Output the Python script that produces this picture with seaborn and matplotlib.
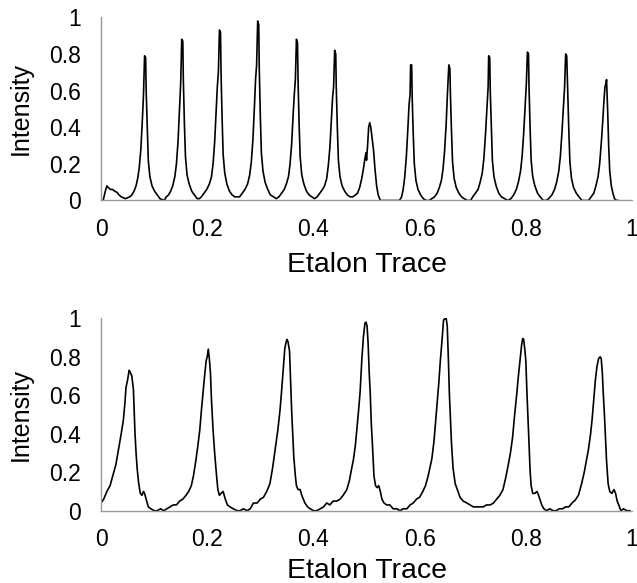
import matplotlib
matplotlib.use("Agg")
import matplotlib.pyplot as plt
import seaborn as sns

# Etalon trace, upper panel (peak by peak)
top_x = [
    0.004, 0.008, 0.011, 0.014, 0.018, 0.022, 0.026, 0.030, 0.034, 0.038, 0.042, 0.046, 0.050,
    0.054, 0.058, 0.062, 0.066, 0.069, 0.072, 0.075, 0.078, 0.080, 0.082, 0.084, 0.085, 0.087, 0.089, 0.092, 0.096, 0.101, 0.106, 0.111, 0.115,
    0.119, 0.123,
    0.127, 0.131, 0.135, 0.139, 0.142, 0.145, 0.148, 0.150, 0.152, 0.154, 0.155, 0.157, 0.159, 0.162, 0.166, 0.171, 0.176, 0.181, 0.185,
    0.189, 0.194, 0.199, 0.204, 0.208, 0.211, 0.214, 0.217, 0.219, 0.221, 0.223, 0.225, 0.226, 0.228, 0.230, 0.233, 0.237, 0.242, 0.247, 0.252, 0.256,
    0.261, 0.266, 0.271, 0.276, 0.280, 0.283, 0.286, 0.289, 0.291, 0.293, 0.295, 0.297, 0.298, 0.300, 0.302, 0.305, 0.309, 0.314, 0.319, 0.325, 0.330,
    0.335, 0.340, 0.345, 0.349, 0.353, 0.356, 0.359, 0.362, 0.364, 0.366, 0.368, 0.370, 0.371, 0.373, 0.375, 0.378, 0.382, 0.387, 0.392, 0.397, 0.402,
    0.407, 0.412, 0.417, 0.421, 0.425, 0.428, 0.431, 0.434, 0.436, 0.438, 0.440, 0.442, 0.443, 0.445, 0.447, 0.450, 0.454, 0.459, 0.464, 0.469, 0.474, 0.479,
    0.483, 0.487, 0.491, 0.494, 0.497, 0.499, 0.500, 0.502, 0.504, 0.506, 0.508, 0.510, 0.513, 0.516, 0.519, 0.522, 0.526, 0.535, 0.545, 0.555, 0.562,
    0.566, 0.569, 0.572, 0.575, 0.578, 0.580, 0.582, 0.583, 0.585, 0.586, 0.588, 0.590, 0.593, 0.597, 0.602, 0.607, 0.612, 0.618, 0.623,
    0.628, 0.633, 0.637, 0.641, 0.644, 0.647, 0.650, 0.652, 0.654, 0.655, 0.657, 0.658, 0.660, 0.662, 0.665, 0.669, 0.674, 0.679, 0.684, 0.690, 0.696,
    0.700, 0.705, 0.710, 0.714, 0.718, 0.721, 0.724, 0.727, 0.729, 0.730, 0.732, 0.733, 0.735, 0.737, 0.740, 0.744, 0.749, 0.754, 0.760, 0.766,
    0.772, 0.777, 0.782, 0.786, 0.790, 0.793, 0.796, 0.799, 0.801, 0.803, 0.805, 0.806, 0.808, 0.810, 0.813, 0.817, 0.822, 0.827, 0.833, 0.838,
    0.843, 0.849, 0.854, 0.858, 0.862, 0.865, 0.868, 0.871, 0.873, 0.875, 0.877, 0.879, 0.881, 0.883, 0.886, 0.890, 0.895, 0.900, 0.906, 0.912,
    0.918, 0.923, 0.928, 0.932, 0.936, 0.939, 0.942, 0.945, 0.947, 0.949, 0.951, 0.952, 0.954, 0.956, 0.958, 0.961, 0.964, 0.967, 0.971, 0.975,
]
top_y = [
    0.00, 0.05, 0.08, 0.07, 0.06, 0.06, 0.05, 0.045, 0.03, 0.02, 0.015, 0.01, 0.015,
    0.02, 0.03, 0.05, 0.08, 0.12, 0.18, 0.28, 0.45, 0.58, 0.79, 0.78, 0.60, 0.40, 0.22, 0.13, 0.08, 0.05, 0.03, 0.01, 0.005,
    0.00, 0.02,
    0.03, 0.05, 0.08, 0.13, 0.20, 0.32, 0.52, 0.64, 0.88, 0.87, 0.66, 0.42, 0.24, 0.14, 0.09, 0.05, 0.03, 0.01, 0.01,
    0.02, 0.04, 0.06, 0.09, 0.13, 0.20, 0.32, 0.50, 0.62, 0.70, 0.93, 0.92, 0.70, 0.45, 0.25, 0.15, 0.09, 0.05, 0.03, 0.02, 0.02,
    0.02, 0.04, 0.06, 0.09, 0.14, 0.21, 0.33, 0.52, 0.66, 0.74, 0.98, 0.96, 0.72, 0.46, 0.26, 0.16, 0.10, 0.06, 0.03, 0.02, 0.01,
    0.02, 0.04, 0.06, 0.09, 0.13, 0.20, 0.31, 0.48, 0.58, 0.66, 0.88, 0.86, 0.66, 0.42, 0.24, 0.14, 0.09, 0.05, 0.03, 0.02, 0.01,
    0.02, 0.04, 0.06, 0.08, 0.12, 0.19, 0.29, 0.45, 0.56, 0.62, 0.82, 0.80, 0.62, 0.40, 0.22, 0.13, 0.08, 0.05, 0.03, 0.02, 0.02, 0.03,
    0.04, 0.07, 0.12, 0.17, 0.23, 0.26, 0.22, 0.30, 0.40, 0.425, 0.40, 0.35, 0.28, 0.17, 0.08, 0.03, 0.00, 0.00, 0.00, 0.00, 0.00,
    0.02, 0.06, 0.13, 0.24, 0.40, 0.52, 0.58, 0.74, 0.74, 0.56, 0.36, 0.20, 0.11, 0.06, 0.03, 0.01, 0.00, 0.00, 0.01,
    0.02, 0.04, 0.07, 0.11, 0.17, 0.27, 0.42, 0.56, 0.68, 0.74, 0.72, 0.58, 0.38, 0.21, 0.12, 0.07, 0.04, 0.02, 0.01, 0.00, 0.00,
    0.02, 0.04, 0.06, 0.10, 0.15, 0.23, 0.36, 0.52, 0.62, 0.79, 0.78, 0.60, 0.40, 0.22, 0.13, 0.08, 0.04, 0.02, 0.01, 0.00,
    0.01, 0.03, 0.06, 0.10, 0.16, 0.24, 0.37, 0.53, 0.64, 0.81, 0.80, 0.62, 0.40, 0.22, 0.13, 0.08, 0.04, 0.02, 0.00, 0.00,
    0.01, 0.03, 0.06, 0.10, 0.16, 0.24, 0.37, 0.52, 0.62, 0.80, 0.79, 0.58, 0.38, 0.21, 0.12, 0.07, 0.04, 0.02, 0.00, 0.00,
    0.00, 0.02, 0.04, 0.08, 0.13, 0.20, 0.31, 0.44, 0.54, 0.62, 0.64, 0.66, 0.50, 0.30, 0.16, 0.08, 0.04, 0.01, 0.00, 0.00,
]

# Etalon trace, lower panel
bottom_x = [
    0.000, 0.005, 0.011, 0.017, 0.023, 0.028, 0.033, 0.038, 0.042, 0.045, 0.047, 0.050, 0.053, 0.055, 0.058, 0.061, 0.064, 0.066,
    0.068, 0.071, 0.074, 0.077, 0.080, 0.082, 0.085, 0.089, 0.094, 0.100, 0.106, 0.112, 0.118, 0.124, 0.130, 0.136, 0.142,
    0.148, 0.154, 0.160, 0.165, 0.170, 0.174, 0.178, 0.182, 0.186, 0.189, 0.192, 0.195, 0.198, 0.200, 0.202, 0.204,
    0.206, 0.208, 0.211, 0.214, 0.217, 0.220, 0.223, 0.226, 0.230, 0.234, 0.238, 0.243, 0.249, 0.256, 0.262,
    0.268, 0.275, 0.281, 0.287, 0.294, 0.300, 0.306, 0.312, 0.318, 0.323, 0.328, 0.333, 0.337, 0.340, 0.343, 0.346, 0.348, 0.350,
    0.352, 0.355, 0.357, 0.359, 0.361, 0.363, 0.366, 0.368, 0.371, 0.375, 0.378, 0.381, 0.384, 0.389, 0.394, 0.400, 0.406,
    0.413, 0.419, 0.425, 0.431, 0.437, 0.444, 0.450, 0.456, 0.463, 0.468, 0.472, 0.475, 0.479, 0.482, 0.485, 0.488, 0.491, 0.494, 0.497, 0.499,
    0.501, 0.503, 0.505, 0.507, 0.509, 0.511, 0.514, 0.517, 0.520, 0.523, 0.526, 0.529, 0.533, 0.538, 0.544, 0.550, 0.557, 0.563, 0.569,
    0.576, 0.582, 0.588, 0.594, 0.600, 0.606, 0.611, 0.616, 0.620, 0.623, 0.627, 0.630, 0.633, 0.636, 0.639, 0.642, 0.645, 0.648, 0.650,
    0.652, 0.654, 0.656, 0.658, 0.660, 0.663, 0.667, 0.671, 0.676, 0.682, 0.689, 0.695, 0.701, 0.708, 0.714, 0.720, 0.726, 0.733, 0.739,
    0.745, 0.751, 0.757, 0.762, 0.767, 0.771, 0.775, 0.779, 0.783, 0.786, 0.789, 0.792, 0.794, 0.796, 0.798, 0.800, 0.802,
    0.804, 0.806, 0.808, 0.810, 0.813, 0.817, 0.821, 0.824, 0.827, 0.830, 0.834, 0.839, 0.845, 0.851, 0.857, 0.863, 0.869,
    0.875, 0.881, 0.887, 0.893, 0.899, 0.905, 0.910, 0.914, 0.918, 0.922, 0.925, 0.928, 0.931, 0.934, 0.937, 0.940, 0.942,
    0.944, 0.946, 0.948, 0.950, 0.952, 0.955, 0.958, 0.962, 0.966, 0.969, 0.972, 0.975, 0.979, 0.984, 0.990, 0.996,
]
bottom_y = [
    0.04, 0.06, 0.10, 0.13, 0.19, 0.24, 0.32, 0.40, 0.47, 0.56, 0.64, 0.68, 0.73, 0.72, 0.70, 0.63, 0.40, 0.30,
    0.22, 0.14, 0.09, 0.08, 0.10, 0.09, 0.06, 0.02, 0.01, 0.00, 0.00, 0.01, 0.00, 0.01, 0.02, 0.03, 0.03,
    0.05, 0.06, 0.08, 0.10, 0.13, 0.18, 0.25, 0.33, 0.42, 0.52, 0.61, 0.70, 0.78, 0.80, 0.84, 0.79,
    0.72, 0.575, 0.42, 0.30, 0.20, 0.11, 0.08, 0.09, 0.10, 0.06, 0.03, 0.02, 0.01, 0.00, 0.00,
    0.01, 0.00, 0.01, 0.04, 0.04, 0.06, 0.07, 0.10, 0.14, 0.22, 0.32, 0.42, 0.52, 0.62, 0.73, 0.84, 0.87, 0.89,
    0.88, 0.83, 0.68, 0.52, 0.40, 0.28, 0.18, 0.13, 0.11, 0.11, 0.08, 0.06, 0.04, 0.02, 0.01, 0.00, 0.00,
    0.01, 0.02, 0.04, 0.03, 0.05, 0.05, 0.06, 0.08, 0.11, 0.16, 0.22, 0.26, 0.34, 0.43, 0.52, 0.62, 0.78, 0.90, 0.975, 0.98,
    0.96, 0.87, 0.72, 0.61, 0.45, 0.35, 0.18, 0.13, 0.12, 0.13, 0.10, 0.06, 0.04, 0.03, 0.03, 0.01, 0.01, 0.00, 0.01,
    0.01, 0.03, 0.04, 0.06, 0.07, 0.10, 0.13, 0.18, 0.23, 0.27, 0.36, 0.46, 0.56, 0.66, 0.78, 0.88, 0.99, 1.00, 1.00,
    0.96, 0.80, 0.61, 0.48, 0.35, 0.22, 0.14, 0.11, 0.07, 0.05, 0.04, 0.03, 0.02, 0.02, 0.02, 0.02, 0.03, 0.03, 0.04,
    0.06, 0.08, 0.11, 0.17, 0.24, 0.30, 0.38, 0.50, 0.61, 0.70, 0.78, 0.86, 0.895, 0.89, 0.84, 0.78, 0.62,
    0.49, 0.35, 0.21, 0.13, 0.09, 0.09, 0.10, 0.08, 0.055, 0.03, 0.01, 0.00, 0.01, 0.00, 0.00, 0.01, 0.01,
    0.02, 0.02, 0.04, 0.055, 0.08, 0.14, 0.20, 0.26, 0.32, 0.40, 0.48, 0.58, 0.68, 0.75, 0.79, 0.80, 0.79,
    0.72, 0.60, 0.50, 0.38, 0.26, 0.14, 0.10, 0.09, 0.11, 0.09, 0.05, 0.03, 0.00, 0.01, 0.00, 0.00,
]

tick_vals = [0, 0.2, 0.4, 0.6, 0.8, 1]
tick_labels = ["0", "0.2", "0.4", "0.6", "0.8", "1"]

sns.set_theme(style="white")
plt.rcParams["font.family"] = ["Liberation Sans", "DejaVu Sans"]

fig = plt.figure(figsize=(6.37, 5.83), dpi=100)
ax_top = fig.add_axes([0.1586, 0.6561, 0.8336, 0.3142])
ax_bot = fig.add_axes([0.1586, 0.1240, 0.8336, 0.3300])

panels = [(ax_top, top_x, top_y, -0.279), (ax_bot, bottom_x, bottom_y, -0.245)]
for ax, xs, ys, xlab_y in panels:
    sns.lineplot(x=xs, y=ys, ax=ax, color="black", linewidth=1.2,
                 estimator=None, sort=False)
    ax.set_xlim(0, 1)
    ax.set_ylim(0, 1)
    ax.set_xticks(tick_vals)
    ax.set_xticklabels(tick_labels)
    ax.set_yticks(tick_vals)
    ax.set_yticklabels(tick_labels)
    for side in ["top", "right"]:
        ax.spines[side].set_visible(False)
    for side in ["left", "bottom"]:
        ax.spines[side].set_color("#9a9a9a")
        ax.spines[side].set_linewidth(1.0)
    ax.tick_params(direction="out", length=4.5, width=1.0, color="#9a9a9a",
                   labelsize=16.5, labelcolor="black")
    ax.tick_params(axis="x", pad=8)
    ax.tick_params(axis="y", pad=10)
    ax.set_xlabel("Etalon Trace", fontsize=20.5, color="black")
    ax.set_ylabel("Intensity", fontsize=18, color="black")
    ax.xaxis.set_label_coords(0.5, xlab_y)
    ax.yaxis.set_label_coords(-0.128, 0.5)
    ax.xaxis.label.set_va("top")
    ax.grid(False)

fig.savefig("out.png", dpi=100)
